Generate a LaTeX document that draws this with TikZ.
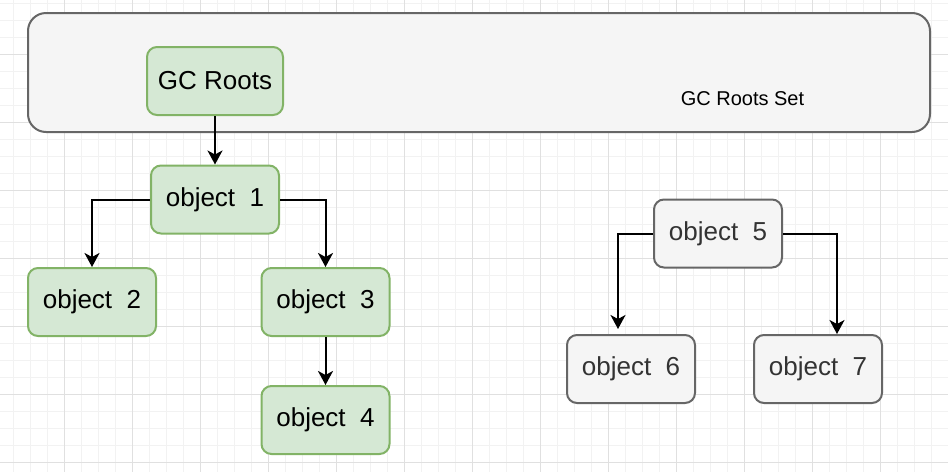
\documentclass[tikz,border=0pt]{standalone}
\usepackage{fontspec}
\setmainfont{Liberation Sans}
\usetikzlibrary{arrows.meta}
\definecolor{gfill}{HTML}{D5E8D4}
\definecolor{gline}{HTML}{82B366}
\definecolor{sfill}{HTML}{F5F5F5}
\definecolor{sline}{HTML}{666666}
\definecolor{stext}{HTML}{333333}
\definecolor{gridmajor}{HTML}{E0E0E0}
\definecolor{gridminor}{HTML}{F2F2F2}
\tikzset{
  objbox/.style={draw=gline, fill=gfill, line width=2pt, rounded corners=10pt,
    minimum width=128pt, minimum height=68pt, inner sep=0pt,
    font=\fontsize{26}{31}\selectfont, text=black},
  greybox/.style={objbox, draw=sline, fill=sfill, text=stext},
  conn/.style={line width=2pt, -{Stealth[length=14pt, width=15pt, inset=4pt]}},
}
\begin{document}
\begin{tikzpicture}[x=1pt, y=-1pt]
\useasboundingbox (0,0) rectangle (948,472);
\fill[white] (0,0) rectangle (948,472);
% grid
\begin{scope}
\clip (0,0) rectangle (948,472);
\foreach \i in {0,...,56} {
  \draw[gridminor, line width=1pt] ({-3.5+17*\i},0) -- ({-3.5+17*\i},472);
}
\foreach \i in {0,...,28} {
  \draw[gridminor, line width=1pt] (0,{-13.5+17*\i}) -- (948,{-13.5+17*\i});
}
\foreach \i in {0,...,14} {
  \draw[gridmajor, line width=1pt] ({-3.5+68*\i},0) -- ({-3.5+68*\i},472);
}
\foreach \i in {0,...,7} {
  \draw[gridmajor, line width=1pt] (0,{-13.5+68*\i}) -- (948,{-13.5+68*\i});
}
\end{scope}
% container
\node[draw=sline, fill=sfill, line width=2pt, rounded corners=18pt,
  minimum width=902pt, minimum height=119pt, inner sep=0pt] (set) at (479,72.5) {};
\node[font=\fontsize{20}{24}\selectfont, text=black] (setlabel) at (742.5,98.5) {GC Roots Set};
% nodes
\node[objbox, minimum width=136pt] (roots) at (215,81) {GC Roots};
\node[objbox] (o1) at (215,199.5) {object\ \ 1};
\node[objbox] (o2) at (92,302) {object\ \ 2};
\node[objbox] (o3) at (325.5,302) {object\ \ 3};
\node[objbox] (o4) at (325.5,420) {object\ \ 4};
\node[greybox] (o5) at (718,233.5) {object\ \ 5};
\node[greybox] (o6) at (631,369) {object\ \ 6};
\node[greybox] (o7) at (818,369) {object\ \ 7};
% connectors
\draw[conn] (roots.south) -- (o1.north);
\draw[conn] (o1.west) -| (o2.north);
\draw[conn] (o1.east) -| (o3.north);
\draw[conn] (o3.south) -- (o4.north);
\draw[conn, shorten >=5pt] (o5.west) -| ([xshift=-13pt]o6.north);
\draw[conn] (o5.east) -| ([xshift=19pt]o7.north);
\end{tikzpicture}
\end{document}
